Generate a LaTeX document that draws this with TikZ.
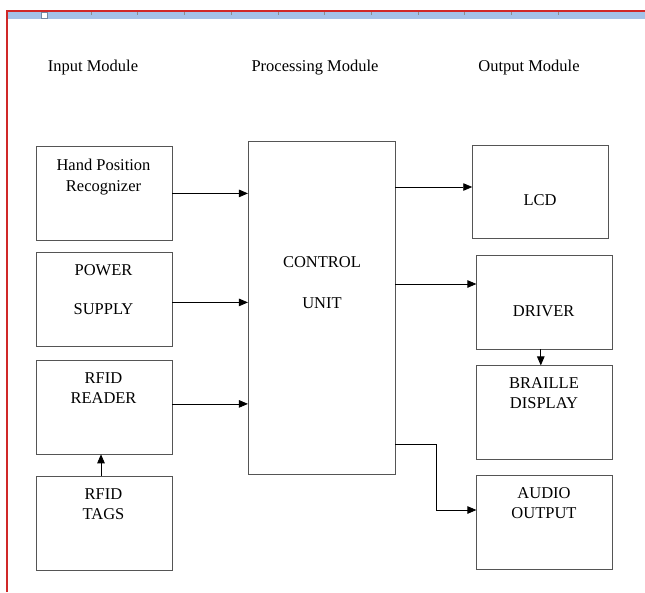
\documentclass[tikz,border=0pt]{standalone}
\usepackage{fontspec}
\setmainfont{Liberation Serif}
\usetikzlibrary{arrows.meta,calc,positioning}
\definecolor{frame}{HTML}{D02828}
\definecolor{ruler}{HTML}{A4C2E8}
\definecolor{edge}{HTML}{555555}

\tikzset{
  blk/.style={draw=edge,line width=0.8pt,inner sep=0pt,minimum width=136pt,minimum height=94pt},
  lbl/.style={inner sep=0pt,align=center},
  arr/.style={-{Triangle[length=9pt,width=7.5pt]},line width=0.8pt,black}
}

\begin{document}
\begin{tikzpicture}[x=1pt,y=-1pt,font=\fontsize{16.5}{20.5}\selectfont]
\useasboundingbox (0,0) rectangle (645,592);
% page edge and ruler
\fill[ruler] (7,12) rectangle (645,18.5);
\foreach \t in {0,...,10} {\draw[black!45,line width=0.6pt] (91+46.7*\t,12) -- (91+46.7*\t,15);}
\draw[fill=white,draw=ruler!70!black,line width=0.5pt] (41,12.5) rectangle (47.5,18);
\draw[frame,line width=2pt] (6.5,592) -- (6.5,10.5) -- (645,10.5);
% column titles
\node[lbl] (tin) at (93,68) {Input Module};
\node[lbl] (tpr) at (315,68) {Processing Module};
\node[lbl] (tout) at (529,68) {Output Module};
% input side
\node[blk] (hand) at (104,193.4) {};
\node[blk] (pwr) at (104,299.4) {};
\node[blk] (rdr) at (104,406.9) {};
\node[blk] (tags) at (104,523) {};
\node[lbl] (handtxt) at (103.5,177) {Hand Position\\Recognizer};
\node[lbl] (pwrtxt) at (103.5,289.5) {POWER\\[18.5pt]SUPPLY};
\node[lbl] (rdrtxt) at (103.5,388) {RFID\\READER};
\node[lbl] (tagstxt) at (103.5,504) {RFID\\TAGS};
% processing
\node[blk,minimum width=146.7pt,minimum height=332.3pt] (cu) at (321.7,307.9) {};
\node[lbl] (cutxt) at (322,282.5) {CONTROL\\[20.5pt]UNIT};
% output side
\node[blk,minimum width=135.3pt,minimum height=93pt] (lcd) at (540.3,191.5) {};
\node[blk] (drv) at (544.8,302) {};
\node[blk] (br) at (544.8,412.8) {};
\node[blk] (aud) at (544.8,522) {};
\node[lbl] (lcdtxt) at (540,200) {LCD};
\node[lbl] (drvtxt) at (543.7,311) {DRIVER};
\node[lbl] (brtxt) at (544,393) {BRAILLE\\DISPLAY};
\node[lbl] (audtxt) at (544,503) {AUDIO\\OUTPUT};
% connections
\draw[arr] (hand.east) -- (cu.west |- hand.east);
\draw[arr] ([yshift=-3pt]pwr.east) -- ([yshift=-3pt]cu.west |- pwr.east);
\draw[arr] ([yshift=3pt]rdr.east) -- ([yshift=3pt]cu.west |- rdr.east);
\draw[arr] ([xshift=-3pt]tags.north) -- ([xshift=-3pt]rdr.south);
\draw[arr] ([yshift=4.5pt]cu.east |- lcd.west) -- ([yshift=4.5pt]lcd.west);
\draw[arr] ([yshift=18pt]cu.east |- drv.west) -- ([yshift=18pt]drv.west);
\draw[arr] ([xshift=-4pt]drv.south) -- ([xshift=-4pt]br.north);
\coordinate (bend) at (436,444);
\draw[arr] (cu.east |- bend) -- (bend) |- ([yshift=12pt]aud.west);
\end{tikzpicture}
\end{document}
